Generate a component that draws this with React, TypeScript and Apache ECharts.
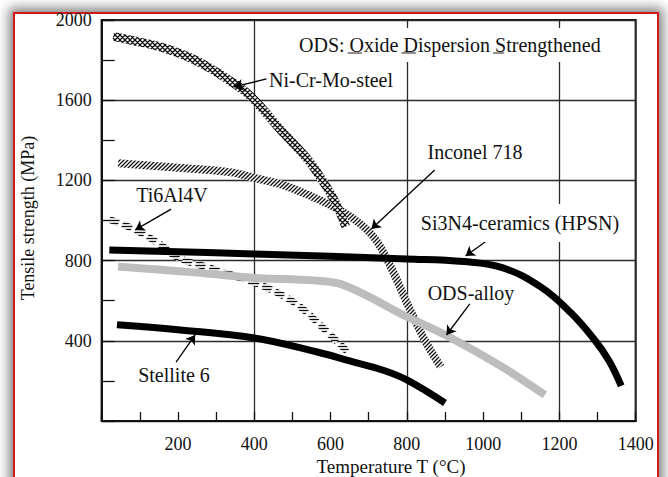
import React, { useEffect, useRef } from 'react';
import * as echarts from 'echarts';

const FONT = '"Liberation Serif", "Times New Roman", serif';

// Tick labels
const xLabels = [200, 400, 600, 800, 1000, 1200, 1400];
const yLabels = [400, 800, 1200, 1600, 2000];

// Series data [temperature °C, tensile strength MPa]
const niCrMoSteel: [number, number][] = [
  [30, 1918], [70, 1902], [160, 1862], [245, 1800], [330, 1705], [390, 1620],
  [470, 1450], [540, 1305], [575, 1210], [610, 1100], [640, 970],
];
const inconel718: [number, number][] = [
  [43, 1285], [200, 1263], [340, 1240], [400, 1212], [470, 1180], [550, 1120],
  [626, 1050], [680, 980], [720, 900], [760, 760], [800, 590], [845, 410], [889, 270],
];
const ti6Al4V: [number, number][] = [
  [20, 1005], [80, 960], [150, 885], [200, 815], [280, 765], [400, 690],
  [460, 640], [520, 570], [580, 465], [645, 345],
];
const si3N4: [number, number][] = [
  [20, 853], [400, 833], [800, 808], [950, 795], [1050, 765], [1150, 670],
  [1230, 540], [1290, 410], [1330, 300], [1362, 175],
];
const odsAlloy: [number, number][] = [
  [43, 770], [250, 740], [400, 713], [620, 686], [800, 520], [905, 425],
  [1050, 270], [1162, 130],
];
const stellite6: [number, number][] = [
  [40, 480], [200, 455], [400, 414], [565, 344], [650, 300], [740, 252],
  [800, 205], [900, 90],
];

// Annotation arrows in data coordinates: [from, to]
const arrowNiCrMo: [number, number][] = [[432, 1706], [347, 1666]];
const arrowInconel: [number, number][] = [[873, 1252], [707, 958]];
const arrowSi3N4: [number, number][] = [[1038, 938], [954, 823]];
const arrowTi: [number, number][] = [[182, 1057], [88, 953]];
const arrowStellite: [number, number][] = [[195, 294], [245, 429]];
const arrowOds: [number, number][] = [[965, 584], [904, 429]];

function makePattern(kind: 'cross' | 'diag' | 'horiz') {
  const c = document.createElement('canvas');
  const w = kind === 'horiz' ? 6 : kind === 'cross' ? 5 : 4;
  const h = kind === 'horiz' ? 3 : w;
  c.width = w;
  c.height = h;
  const ctx = c.getContext('2d')!;
  ctx.fillStyle = '#ffffff';
  ctx.fillRect(0, 0, w, h);
  ctx.strokeStyle = '#0d0d0d';
  ctx.lineWidth = kind === 'horiz' ? 1.3 : 1.25;
  ctx.beginPath();
  if (kind === 'horiz') {
    ctx.moveTo(0, 1.5);
    ctx.lineTo(w, 1.5);
  } else {
    ctx.moveTo(-1, h + 1);
    ctx.lineTo(w + 1, -1);
    ctx.moveTo(-1, 1);
    ctx.lineTo(1, -1);
    ctx.moveTo(w - 1, h + 1);
    ctx.lineTo(w + 1, h - 1);
    if (kind === 'cross') {
      ctx.moveTo(-1, -1);
      ctx.lineTo(w + 1, h + 1);
      ctx.moveTo(w - 1, -1);
      ctx.lineTo(w + 1, 1);
      ctx.moveTo(-1, h - 1);
      ctx.lineTo(1, h + 1);
    }
  }
  ctx.stroke();
  return { image: c, repeat: 'repeat', imageWidth: w, imageHeight: h };
}

function arrow(a: [number, number][]) {
  return {
    silent: true,
    symbol: ['none', 'arrow'],
    symbolSize: 9,
    label: { show: false },
    lineStyle: { color: '#000', width: 1.3, type: 'solid' },
    emphasis: { disabled: true },
    data: [[{ coord: a[0] }, { coord: a[1] }]],
  };
}

export default function App() {
  const ref = useRef<HTMLDivElement>(null);

  useEffect(() => {
    if (!ref.current) return;
    const chart = echarts.init(ref.current, null, { renderer: 'svg' });

    const band = (name: string, data: [number, number][], color: any, width: number, ml: any, extra: any = {}, smooth = 0.4) => ({
      type: 'line',
      name,
      data,
      showSymbol: false,
      symbol: 'none',
      smooth,
      silent: true,
      z: 3,
      lineStyle: { color, width, cap: 'butt', join: 'round', ...extra },
      markLine: ml,
    });

    const titleFont = `20px ${FONT}`;
    const cv = document.createElement('canvas').getContext('2d')!;
    cv.font = titleFont;
    const tx = 297;
    const mw = (s: string) => cv.measureText(s).width;
    const ul = (pre: string, ch: string) => {
      const x1 = tx + mw(pre);
      const x2 = x1 + mw(ch);
      return { type: 'line', z: 100, shape: { x1, y1: 53, x2, y2: 53 }, style: { stroke: '#222', lineWidth: 1 } };
    };

    const txt = (text: string, x: number, y: number, align: string, extra: any = {}) => ({
      type: 'text',
      x,
      y,
      z: 100,
      style: {
        text,
        fontFamily: FONT,
        fontSize: 20,
        fill: '#111',
        align,
        verticalAlign: 'middle',
        ...extra,
      },
    });

    chart.setOption({
      animation: false,
      grid: {
        left: 101.7, top: 20, right: 32.3, bottom: 56,
        show: true, borderColor: '#111', borderWidth: 2, backgroundColor: 'transparent',
      },
      xAxis: [
        {
          type: 'value', min: 0, max: 1400, interval: 100,
          axisLine: { lineStyle: { color: '#111', width: 2 } },
          axisTick: { inside: true, length: 9, lineStyle: { color: '#111', width: 1.3 } },
          axisLabel: {
            formatter: (v: number) => (xLabels.includes(v) ? String(v) : ''),
            fontFamily: FONT, fontSize: 18, color: '#111', margin: 14,
          },
          splitLine: { show: false },
        },
        {
          type: 'value', min: 0, max: 1400, interval: 400, position: 'top',
          axisLine: { show: false }, axisTick: { show: false }, axisLabel: { show: false },
          splitLine: { show: true, lineStyle: { color: '#2a2a2a', width: 1.3 } },
        },
      ],
      yAxis: [
        {
          type: 'value', min: 0, max: 2000, interval: 200,
          axisLine: { show: true, lineStyle: { color: '#111', width: 2 } },
          axisTick: { show: true, inside: true, length: 13, lineStyle: { color: '#111', width: 1.3 } },
          axisLabel: {
            formatter: (v: number) => (yLabels.includes(v) ? String(v) : ''),
            fontFamily: FONT, fontSize: 18, color: '#111', margin: 10,
          },
          splitLine: { show: false },
        },
        {
          type: 'value', min: 0, max: 2000, interval: 400, position: 'right',
          axisLine: { show: false }, axisTick: { show: false }, axisLabel: { show: false },
          splitLine: { show: true, lineStyle: { color: '#2a2a2a', width: 1.3 } },
        },
      ],
      series: [
        band('Inconel 718', inconel718, makePattern('diag'), 8, arrow(arrowInconel)),
        band('Ni-Cr-Mo-steel', niCrMoSteel, makePattern('cross'), 9, arrow(arrowNiCrMo)),
        band('Ti6Al4V', ti6Al4V, makePattern('horiz'), 7, arrow(arrowTi), { type: [10, 4] }),
        band('ODS-alloy', odsAlloy, '#bdbdbd', 8, arrow(arrowOds), {}, 0.25),
        band('Si3N4-ceramics (HPSN)', si3N4, '#000', 7, arrow(arrowSi3N4)),
        band('Stellite 6', stellite6, '#000', 7, arrow(arrowStellite)),
      ],
      graphic: [
        txt('ODS: Oxide Dispersion Strengthened', tx, 45, 'left', { backgroundColor: '#fff', padding: [7, 2] }),
        ul('ODS: ', 'O'),
        ul('ODS: Oxide ', 'D'),
        ul('ODS: Oxide Dispersion ', 'S'),
        txt('Ni-Cr-Mo-steel', 269, 80, 'left'),
        txt('Inconel 718', 475, 152, 'center'),
        txt('Si3N4-ceramics (HPSN)', 520, 223, 'center', { backgroundColor: '#fff', padding: [9, 2] }),
        txt('Ti6Al4V', 172, 195, 'center'),
        txt('Stellite 6', 174, 375, 'center'),
        txt('ODS-alloy', 471, 293, 'center'),
        txt('Temperature T (°C)', 391, 466.5, 'center', { fontSize: 19 }),
        {
          type: 'text', x: 28, y: 218, rotation: Math.PI / 2, z: 100,
          style: {
            text: 'Tensile strength (MPa)', fontFamily: FONT, fontSize: 18, fill: '#111',
            align: 'center', verticalAlign: 'middle',
          },
        },
      ],
    });

    return () => chart.dispose();
  }, []);

  return (
    <div style={{ position: 'fixed', left: 0, top: 0, width: 668, height: 477, background: '#fff', overflow: 'hidden' }}>
      <div
        style={{
          position: 'absolute', left: 13, top: 12, width: 642, height: 520,
          border: '2px solid #d01818', boxShadow: '0 0 11px 4px rgba(0,0,0,0.5)', background: '#fff',
        }}
      />
      <div ref={ref} style={{ position: 'absolute', left: 0, top: 0, width: 668, height: 477 }} />
    </div>
  );
}
